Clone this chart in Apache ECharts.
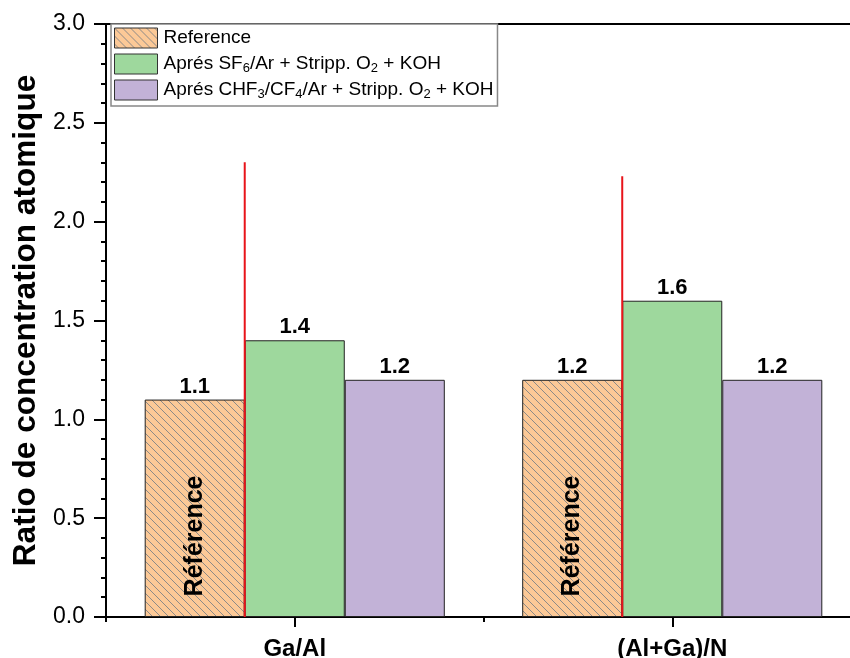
<!DOCTYPE html>
<html>
<head>
<meta charset="utf-8">
<script src="https://cdn.jsdelivr.net/npm/echarts@6/dist/echarts.min.js"></script>
<style>html,body{margin:0;padding:0;background:#fff;overflow:hidden}#c{width:850px;height:658px}</style>
</head>
<body>
<div id="c"></div>
<script>
// ---- data ----
const categories = ['Ga/Al', '(Al+Ga)/N'];
const seriesNames = ['Reference', 'Aprés SF6/Ar + Stripp. O2 + KOH', 'Aprés CHF3/CF4/Ar + Stripp. O2 + KOH'];
const refValues = [1.1, 1.2];
const sf6Values = [1.4, 1.6];
const chf3Values = [1.2, 1.2];
const redLineTops = [2.30, 2.23];
const yTicks = [0, 0.5, 1.0, 1.5, 2.0, 2.5, 3.0];
const yTitle = 'Ratio de concentration atomique';
const insideText = 'Référence';

// ---- styling ----
const FONT = 'Liberation Sans, Arial, sans-serif';
const BAR_PCT = 0.265;

function hatch() {
  const c = document.createElement('canvas');
  c.width = 8; c.height = 8;
  const g = c.getContext('2d');
  g.fillStyle = '#FCC997';
  g.fillRect(0, 0, 8, 8);
  g.strokeStyle = '#8c8a88';
  g.lineWidth = 1;
  [-8, 0, 8].forEach(o => { g.beginPath(); g.moveTo(o, 0); g.lineTo(o + 8, 8); g.stroke(); });
  return c;
}
const orangeFill = { image: hatch(), repeat: 'repeat' };

const chart = echarts.init(document.getElementById('c'), null, { renderer: 'canvas' });

const barLabel = {
  show: true, position: 'top', distance: 2,
  fontFamily: FONT, fontWeight: 'bold', fontSize: 22, color: '#000',
  formatter: p => Number(p.value).toFixed(1)
};

function mkBar(name, data, color) {
  return {
    name, type: 'bar', data,
    barWidth: (BAR_PCT * 100) + '%', barGap: '0%',
    itemStyle: { color, borderColor: '#222', borderWidth: 1 },
    label: barLabel,
    emphasis: { disabled: true }
  };
}

const option = {
  animation: false,
  backgroundColor: '#fff',
  grid: {
    left: 106, top: 24, width: 755, bottom: 41,
    outerBoundsMode: 'none', containLabel: false,
    show: true, borderColor: '#000', borderWidth: 2, backgroundColor: 'transparent'
  },
  legend: {
    orient: 'vertical', left: 111, top: 24,
    padding: [3, 4, 5, 3],
    itemWidth: 43, itemHeight: 20, itemGap: 3,
    borderColor: '#888', borderWidth: 1.5, backgroundColor: '#fff',
    icon: 'rect',
    data: seriesNames,
    itemStyle: { borderColor: '#333', borderWidth: 1 },
    formatter: n => n.replace(/\d/g, d => '{sub|' + d + '}'),
    textStyle: {
      fontFamily: FONT, fontSize: 19, color: '#000', padding: [0, 0, 0, 1],
      lineHeight: 22,
      rich: {
        sub: { fontFamily: FONT, fontSize: 13, verticalAlign: 'bottom', lineHeight: 12, padding: [10, 0, 0, 0] }
      }
    }
  },
  xAxis: [
    {
      type: 'category', data: categories,
      axisLine: { show: true, lineStyle: { color: '#000', width: 2 } },
      axisTick: { show: true, alignWithLabel: true, length: 10, lineStyle: { color: '#000', width: 2 } },
      axisLabel: { fontFamily: FONT, fontWeight: 'bold', fontSize: 24, color: '#000', margin: 20 },
      splitLine: { show: false }
    },
    {
      type: 'value', min: 0, max: 2, interval: 1, position: 'bottom',
      axisLine: { show: false },
      axisTick: { show: true, length: 5, lineStyle: { color: '#000', width: 2 } },
      axisLabel: { show: false },
      splitLine: { show: false }
    }
  ],
  yAxis: {
    type: 'value', min: yTicks[0], max: yTicks[yTicks.length - 1], interval: 0.5,
    name: yTitle, nameLocation: 'middle', nameGap: 62, nameRotate: 90,
    nameTextStyle: { fontFamily: FONT, fontWeight: 'bold', fontSize: 31.6, color: '#000' },
    axisLine: { show: true, lineStyle: { color: '#000', width: 2 } },
    axisTick: { show: true, inside: false, length: 12, lineStyle: { color: '#000', width: 2 } },
    minorTick: { show: true, splitNumber: 5, length: 5, lineStyle: { color: '#000', width: 2 } },
    axisLabel: { fontFamily: FONT, fontSize: 23, color: '#000', margin: 21, formatter: v => v.toFixed(1) },
    splitLine: { show: false }
  },
  series: [
    mkBar(seriesNames[0], refValues, orangeFill),
    mkBar(seriesNames[1], sf6Values, '#9ED89D'),
    mkBar(seriesNames[2], chf3Values, '#C2B2D7'),
    {
      type: 'custom', name: 'redlines', xAxisIndex: 0, yAxisIndex: 0,
      data: redLineTops.map((v, i) => [i, v]),
      z: 5,
      renderItem: function (params, api) {
        const idx = api.value(0);
        const base = api.coord([idx, 0]);
        const top = api.coord([idx, api.value(1)]);
        const band = api.size([1, 0])[0];
        const bw = band * BAR_PCT;
        const xLine = base[0] - bw / 2;
        const xText = base[0] - bw;
        const yText = api.coord([idx, 0.41])[1];
        return {
          type: 'group',
          children: [
            { type: 'line', shape: { x1: xLine, y1: base[1], x2: xLine, y2: top[1] }, style: { stroke: '#E8141A', lineWidth: 2 } },
            { type: 'text', x: xText, y: yText, rotation: Math.PI / 2,
              style: { text: insideText, font: 'bold 25px ' + FONT, fill: '#000', align: 'center', verticalAlign: 'middle' } }
          ]
        };
      }
    }
  ]
};
chart.setOption(option);
</script>
</body>
</html>
